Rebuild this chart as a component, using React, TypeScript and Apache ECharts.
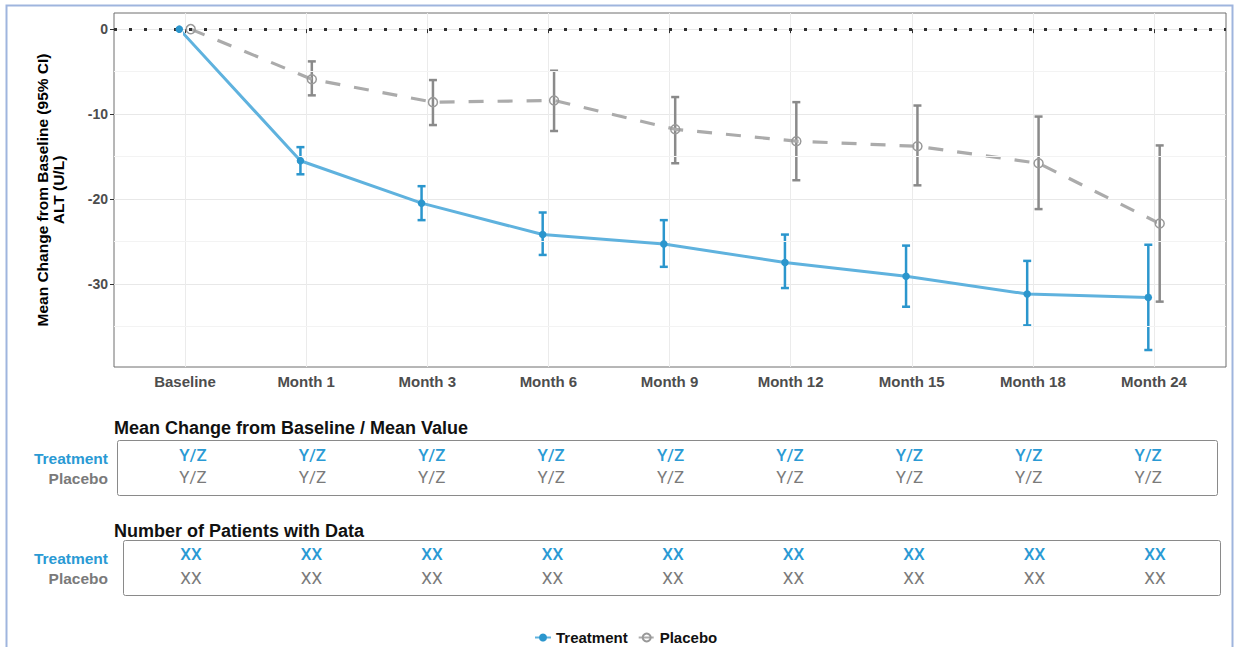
import React, { useEffect, useRef } from "react";
import * as echarts from "echarts";

// Visit labels along the x axis
const categories = ["Baseline", "Month 1", "Month 3", "Month 6", "Month 9", "Month 12", "Month 15", "Month 18", "Month 24"];

// Mean change from baseline in ALT (U/L) with 95% CI bounds
const treatmentMean = [0, -15.5, -20.5, -24.2, -25.3, -27.5, -29.1, -31.2, -31.6];
const treatmentLower = [null, -17.1, -22.5, -26.6, -28.0, -30.5, -32.7, -34.9, -37.8];
const treatmentUpper = [null, -13.9, -18.5, -21.6, -22.5, -24.2, -25.5, -27.3, -25.4];

const placeboMean = [0, -5.9, -8.6, -8.4, -11.8, -13.2, -13.8, -15.8, -22.9];
const placeboLower = [null, -7.8, -11.3, -12.0, -15.8, -17.8, -18.4, -21.2, -32.1];
const placeboUpper = [null, -3.8, -6.0, -4.9, -8.0, -8.6, -9.0, -10.3, -13.7];

// Y axis major labels and minor grid positions
const yTickValues = [0, -10, -20, -30];
const yMinorValues = [-5, -15, -25, -35];

// Summary table cells
const meanValueTreatment = ["Y/Z", "Y/Z", "Y/Z", "Y/Z", "Y/Z", "Y/Z", "Y/Z", "Y/Z", "Y/Z"];
const meanValuePlacebo = ["Y/Z", "Y/Z", "Y/Z", "Y/Z", "Y/Z", "Y/Z", "Y/Z", "Y/Z", "Y/Z"];
const patientsTreatment = ["XX", "XX", "XX", "XX", "XX", "XX", "XX", "XX", "XX"];
const patientsPlacebo = ["XX", "XX", "XX", "XX", "XX", "XX", "XX", "XX", "XX"];

const BLUE = "#2b96cd";
const BLUE_LINE = "#5fb2de";
const GREY_LINE = "#ababab";
const GREY_BAR = "#8a8a8a";
const LABEL_BLUE = "#2a9ad4";
const LABEL_GREY = "#7a7a7a";
const FONT = "'Liberation Sans', Arial, sans-serif";
const CELL_FONT = "Roboto, 'Liberation Sans', sans-serif";

// Horizontal dodge between the two groups (in category units)
const DODGE = 0.047;

const errorBarData = (lower: (number | null)[], upper: (number | null)[], shift: number) =>
  lower
    .map((lo, i) => (lo === null || upper[i] === null ? null : [i + shift, lo, upper[i]]))
    .filter((d) => d !== null) as number[][];

const errorBarRenderer = (color: string, width: number) => (params: any, api: any) => {
  const x = api.value(0);
  const lo = api.coord([x, api.value(1)]);
  const hi = api.coord([x, api.value(2)]);
  const half = 4;
  const style = { stroke: color, lineWidth: width };
  return {
    type: "group",
    children: [
      { type: "line", shape: { x1: hi[0], y1: hi[1], x2: lo[0], y2: lo[1] }, style },
      { type: "line", shape: { x1: hi[0] - half, y1: hi[1], x2: hi[0] + half, y2: hi[1] }, style },
      { type: "line", shape: { x1: lo[0] - half, y1: lo[1], x2: lo[0] + half, y2: lo[1] }, style },
    ],
  };
};

const tableRow = (values: string[], x0: number, step: number, y: number, color: string, weight: string | number) =>
  values.map((v, i) => ({
    type: "text",
    x: x0 + i * step,
    y,
    style: {
      text: v,
      fill: color,
      font: `${weight} 17px ${CELL_FONT}`,
      textAlign: "center",
      textVerticalAlign: "middle",
    },
  }));

const rowLabel = (text: string, y: number, color: string) => ({
  type: "text",
  x: 108,
  y,
  style: { text, fill: color, font: `bold 15.5px ${FONT}`, textAlign: "right", textVerticalAlign: "middle" },
});

const tableTitle = (text: string, y: number) => ({
  type: "text",
  x: 114,
  y,
  style: { text, fill: "#111", font: `bold 18px ${FONT}`, textAlign: "left", textVerticalAlign: "middle" },
});

export default function App() {
  const ref = useRef<HTMLDivElement>(null);

  useEffect(() => {
    if (!ref.current) return;
    const chart = echarts.init(ref.current, null, { renderer: "svg" });

    const option: any = {
      animation: false,
      backgroundColor: "#ffffff",
      textStyle: { fontFamily: FONT },
      grid: [
        { left: 114, right: 10, top: 13, bottom: 280, show: true, borderColor: "#6e6e6e", borderWidth: 1, backgroundColor: "transparent" },
        { left: 185, right: 82, top: 13, bottom: 280 },
      ],
      xAxis: [
        { type: "value", gridIndex: 0, min: 0, max: 1, show: false },
        {
          type: "value",
          gridIndex: 1,
          min: 0,
          max: 8,
          interval: 1,
          axisLine: { show: false },
          axisTick: { show: true, length: 4, lineStyle: { color: "#333" } },
          axisLabel: {
            formatter: (v: number) => categories[v] ?? "",
            fontWeight: "bold",
            fontSize: 15,
            color: "#4d4d4d",
            margin: 7,
          },
          splitLine: { show: true, lineStyle: { color: "#ebebeb", width: 1 } },
        },
      ],
      yAxis: [
        {
          type: "value",
          gridIndex: 0,
          min: -39.8,
          max: 1.9,
          splitNumber: 4,
          name: "Mean Change from Baseline (95% CI)\nALT (U/L)",
          nameLocation: "middle",
          nameRotate: 90,
          nameGap: 48,
          nameTextStyle: { fontWeight: "bold", fontSize: 15.5, color: "#000", lineHeight: 16, align: "center" },
          axisLine: { show: false },
          axisTick: { show: true, length: 4, lineStyle: { color: "#333" }, customValues: yTickValues },
          axisLabel: {
            customValues: yTickValues,
            formatter: (v: number) => (yTickValues.includes(v) ? String(v) : ""),
            fontWeight: "bold",
            fontSize: 14,
            color: "#4d4d4d",
            margin: 6,
          },
          splitLine: { show: true, lineStyle: { color: "#e8e8e8", width: 1 } },
        },
        { type: "value", gridIndex: 1, min: -39.8, max: 1.9, show: false, splitLine: { show: false } },
      ],
      legend: {
        data: ["Treatment", "Placebo"],
        left: 529,
        top: 625,
        itemWidth: 16,
        itemHeight: 10,
        itemGap: 10,
        textStyle: { fontWeight: "bold", fontSize: 15, color: "#111", fontFamily: FONT },
      },
      series: [
        {
          type: "line",
          xAxisIndex: 0,
          yAxisIndex: 0,
          data: [],
          silent: true,
          markLine: {
            symbol: "none",
            silent: true,
            label: { show: false },
            data: [
              ...yMinorValues.map((v) => ({ yAxis: v, lineStyle: { color: "#f3f3f3", width: 1, type: "solid" } })),
              { yAxis: 0, lineStyle: { color: "#333", width: 3, type: [3, 12] } },
            ],
          },
        },
        {
          type: "custom",
          xAxisIndex: 1,
          yAxisIndex: 1,
          silent: true,
          renderItem: errorBarRenderer(GREY_BAR, 2.5),
          encode: { x: 0, y: [1, 2] },
          data: errorBarData(placeboLower, placeboUpper, DODGE),
          z: 3,
        },
        {
          type: "custom",
          xAxisIndex: 1,
          yAxisIndex: 1,
          silent: true,
          renderItem: errorBarRenderer(BLUE, 2.5),
          encode: { x: 0, y: [1, 2] },
          data: errorBarData(treatmentLower, treatmentUpper, -DODGE),
          z: 3,
        },
        {
          name: "Placebo",
          type: "line",
          xAxisIndex: 1,
          yAxisIndex: 1,
          clip: false,
          data: placeboMean.map((v, i) => [i + DODGE, v]),
          lineStyle: { color: GREY_LINE, width: 3.2, type: [15, 14] },
          itemStyle: { color: "rgba(255,255,255,0)", borderColor: "#999999", borderWidth: 1.5 },
          symbol: "circle",
          symbolSize: 9,
          z: 4,
        },
        {
          name: "Treatment",
          type: "line",
          xAxisIndex: 1,
          yAxisIndex: 1,
          clip: false,
          data: treatmentMean.map((v, i) => [i - DODGE, v]),
          lineStyle: { color: BLUE_LINE, width: 3 },
          itemStyle: { color: BLUE },
          symbol: "circle",
          symbolSize: 7.5,
          z: 5,
        },
      ],
      graphic: [
        {
          type: "rect",
          shape: { x: 6.5, y: 5.5, width: 1226, height: 700 },
          style: { fill: "none", stroke: "#9fb5de", lineWidth: 2 },
          silent: true,
        },
        tableTitle("Mean Change from Baseline / Mean Value", 428),
        {
          type: "rect",
          shape: { x: 117.5, y: 440.5, width: 1100, height: 55, r: 2 },
          style: { fill: "none", stroke: "#8a8a8a", lineWidth: 1 },
        },
        rowLabel("Treatment", 458, LABEL_BLUE),
        rowLabel("Placebo", 478, LABEL_GREY),
        ...tableRow(meanValueTreatment, 193, 119.4, 455, LABEL_BLUE, 500),
        ...tableRow(meanValuePlacebo, 193, 119.4, 477, LABEL_GREY, 400),
        tableTitle("Number of Patients with Data", 531),
        {
          type: "rect",
          shape: { x: 123.5, y: 540.5, width: 1097, height: 55, r: 2 },
          style: { fill: "none", stroke: "#8a8a8a", lineWidth: 1 },
        },
        rowLabel("Treatment", 558, LABEL_BLUE),
        rowLabel("Placebo", 578, LABEL_GREY),
        ...tableRow(patientsTreatment, 191, 120.5, 554, LABEL_BLUE, 500),
        ...tableRow(patientsPlacebo, 191, 120.5, 578, LABEL_GREY, 400),
      ],
    };

    chart.setOption(option);
    return () => chart.dispose();
  }, []);

  return <div ref={ref} style={{ position: "fixed", left: 0, top: 0, width: 1236, height: 647 }} />;
}
